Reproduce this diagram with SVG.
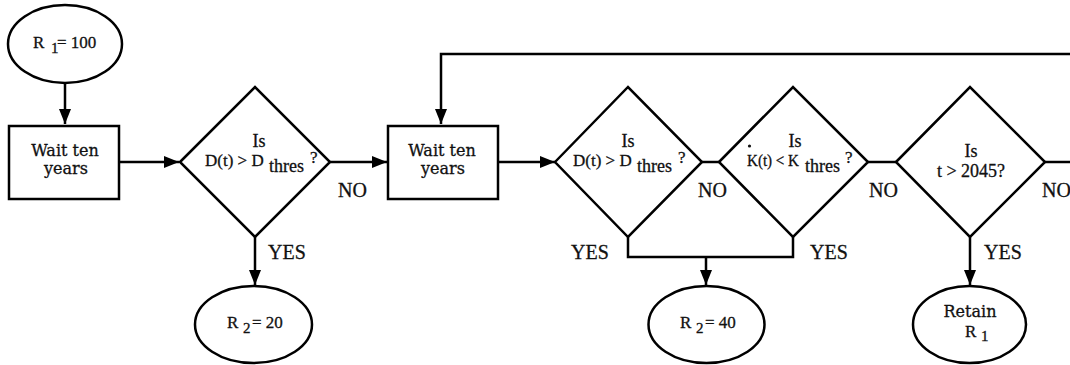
<svg xmlns="http://www.w3.org/2000/svg" width="1070" height="365" viewBox="0 0 1070 365">
<style>
.s{fill:#fff;stroke:#000;stroke-width:2.5}
.c{fill:none;stroke:#000;stroke-width:2.5}
text{stroke:#111;stroke-width:0.3}
.w{font-family:"DejaVu Serif",serif;font-size:16px;fill:#111}
.m{font-family:"Liberation Serif",serif;font-size:17px;fill:#111}
.sub{font-family:"Liberation Serif",serif;font-size:15px;fill:#111}
.q{font-family:"Liberation Serif",serif;font-size:18px;fill:#111}
.lbl{font-family:"Liberation Serif",serif;font-size:20px;fill:#111}
</style>
<defs>
<marker id="ah" markerUnits="userSpaceOnUse" markerWidth="15" markerHeight="12" refX="15" refY="6" orient="auto">
<path d="M0,0 L15,6 L0,12 z" fill="#000"/>
</marker>
</defs>
<g id="connectors">
<line class="c" x1="65" y1="83" x2="65" y2="124" marker-end="url(#ah)"/>
<line class="c" x1="119" y1="162" x2="179" y2="162" marker-end="url(#ah)"/>
<line class="c" x1="330" y1="162" x2="387" y2="162" marker-end="url(#ah)"/>
<line class="c" x1="498" y1="162" x2="555" y2="162" marker-end="url(#ah)"/>
<line class="c" x1="702" y1="162" x2="719" y2="162"/>
<line class="c" x1="868" y1="162" x2="896" y2="162"/>
<line class="c" x1="1045" y1="162" x2="1072" y2="162"/>
<polyline class="c" points="1072,54 441,54 441,124" marker-end="url(#ah)"/>
<line class="c" x1="255" y1="237" x2="255" y2="285" marker-end="url(#ah)"/>
<polyline class="c" points="628,237 628,257 793,257 793,237"/>
<line class="c" x1="706" y1="257" x2="706" y2="285" marker-end="url(#ah)"/>
<line class="c" x1="970" y1="237" x2="970" y2="285" marker-end="url(#ah)"/>
<text class="lbl" x="338" y="197">NO</text>
<text class="lbl" x="698" y="197">NO</text>
<text class="lbl" x="869" y="197">NO</text>
<text class="lbl" x="1042" y="197">NO</text>
<text class="lbl" x="268" y="259">YES</text>
<text class="lbl" x="571" y="259">YES</text>
<text class="lbl" x="810" y="259">YES</text>
<text class="lbl" x="984" y="259">YES</text>
</g>
<g id="start">
<ellipse class="s" cx="65" cy="44" rx="57" ry="39"/>
<text class="m" x="33" y="48">R</text><text class="sub" x="51" y="53">1</text><text class="m" x="57" y="48">= 100</text>
</g>
<g id="wait1">
<rect class="s" x="9" y="126" width="110" height="73"/>
<text class="w" x="65" y="156" text-anchor="middle">Wait ten</text>
<text class="w" x="66" y="174" text-anchor="middle">years</text>
</g>
<g id="dec1">
<polygon class="s" points="180,162 255,87 330,162 255,237"/>
<text class="q" x="259" y="147" text-anchor="middle">Is</text>
<text class="m" x="205" y="166">D(t) &gt; D</text>
<text class="q" x="269" y="172">thres</text>
<text class="m" x="310" y="163">?</text>
</g>
<g id="r2a">
<ellipse class="s" cx="253.5" cy="324.5" rx="58.5" ry="38.5"/>
<text class="m" x="227" y="328">R</text><text class="sub" x="243" y="333">2</text><text class="m" x="252" y="328">= 20</text>
</g>
<g id="wait2">
<rect class="s" x="388" y="126" width="110" height="73"/>
<text class="w" x="442" y="156" text-anchor="middle">Wait ten</text>
<text class="w" x="443" y="174" text-anchor="middle">years</text>
</g>
<g id="dec2">
<polygon class="s" points="555,162 628,87 702,162 628,237"/>
<text class="q" x="628" y="147" text-anchor="middle">Is</text>
<text class="m" x="573" y="166">D(t) &gt; D</text>
<text class="q" x="637" y="172">thres</text>
<text class="m" x="678" y="163">?</text>
</g>
<g id="dec3">
<polygon class="s" points="719,162 793,87 868,162 793,237"/>
<text class="q" x="795" y="147" text-anchor="middle">Is</text>
<circle cx="749.5" cy="146" r="1.6" fill="#111"/>
<text class="m" x="747" y="166" textLength="52" lengthAdjust="spacingAndGlyphs">K(t) &lt; K</text>
<text class="q" x="805" y="172">thres</text>
<text class="m" x="845" y="163">?</text>
</g>
<g id="dec4">
<polygon class="s" points="896,162 970,87 1045,162 970,237"/>
<text class="q" x="971" y="157" text-anchor="middle">Is</text>
<text class="q" x="971" y="177" text-anchor="middle">t &gt; 2045?</text>
</g>
<g id="r2b">
<ellipse class="s" cx="706.5" cy="324.5" rx="58" ry="38.5"/>
<text class="m" x="680" y="328">R</text><text class="sub" x="696" y="333">2</text><text class="m" x="705" y="328">= 40</text>
</g>
<g id="retain">
<ellipse class="s" cx="969.5" cy="324.5" rx="56.5" ry="38.5"/>
<text class="w" x="970" y="317" text-anchor="middle">Retain</text>
<text class="m" x="965" y="337">R</text><text class="sub" x="981" y="341">1</text>
</g>
</svg>
